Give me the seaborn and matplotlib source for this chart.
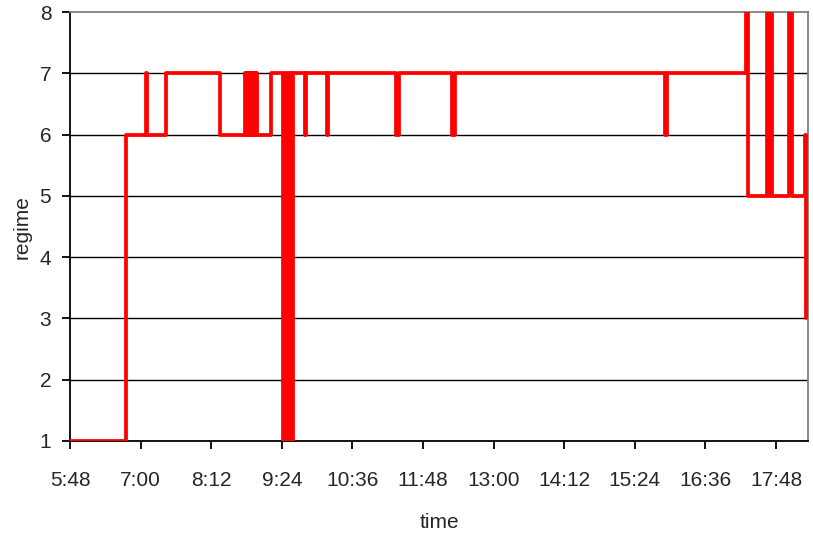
import matplotlib
matplotlib.use("Agg")
import matplotlib.pyplot as plt
import seaborn as sns
import pandas as pd
from matplotlib.ticker import FuncFormatter, FixedLocator

# change points: time of change and new regime value (step series)
times = ["5:48", "6:45", "7:05", "7:07", "7:26", "8:21",
         "8:46", "8:47", "8:48", "8:49", "8:50", "8:51", "8:52", "8:53",
         "8:54", "8:55", "8:56", "8:57", "8:58", "8:59", "9:00", "9:13",
         "9:25", "9:27", "9:28", "9:30", "9:31", "9:33", "9:34", "9:35",
         "9:48", "9:49", "10:10", "10:11", "11:20", "11:24", "12:18", "12:21",
         "15:55", "15:57", "17:17", "17:19",
         "17:39", "17:41", "17:42", "17:44", "18:01", "18:04", "18:18", "18:19"]
regime = [1, 6, 7, 6, 7, 6,
          7, 6, 7, 6, 7, 6, 7, 6,
          7, 6, 7, 6, 7, 6, 6, 7,
          1, 7, 1, 7, 1, 7, 1, 7,
          6, 7, 6, 7, 6, 7, 6, 7,
          6, 7, 8, 5,
          8, 5, 8, 5, 8, 5, 6, 3]

tick_labels = ["5:48", "7:00", "8:12", "9:24", "10:36", "11:48",
               "13:00", "14:12", "15:24", "16:36", "17:48"]
y_ticks = [1, 2, 3, 4, 5, 6, 7, 8]


def to_min(s):
    h, m = s.split(":")
    return int(h) * 60 + int(m)


df = pd.DataFrame({"time": [to_min(t) for t in times], "regime": regime})

sns.set_theme(style="white")
plt.rcParams["font.family"] = ["Liberation Sans", "DejaVu Sans"]

fig = plt.figure(figsize=(8.13, 5.36), dpi=100)
ax = fig.add_axes([70 / 813, 1 - 441 / 536, 738 / 813, 429 / 536])

sns.lineplot(data=df, x="time", y="regime", ax=ax, color="#ff0000",
             linewidth=2.7, drawstyle="steps-post", estimator=None,
             sort=False, zorder=3)

tick_pos = [to_min(t) for t in tick_labels]
ax.set_xlim(tick_pos[0], tick_pos[0] + 752.6)
ax.set_ylim(1, 8)
ax.xaxis.set_major_locator(FixedLocator(tick_pos))
ax.xaxis.set_major_formatter(FuncFormatter(lambda v, p: f"{int(round(v)) // 60}:{int(round(v)) % 60:02d}"))
ax.set_yticks(y_ticks)

for y in y_ticks[1:-1]:
    ax.axhline(y, color="black", linewidth=1.0, zorder=1)

for s in ["left", "bottom"]:
    ax.spines[s].set_color("black")
    ax.spines[s].set_linewidth(1.3)
for s in ["top", "right"]:
    ax.spines[s].set_color("#808080")
    ax.spines[s].set_linewidth(1.3)

ax.tick_params(axis="x", direction="out", length=5.5, width=1.3, color="black",
               pad=16, labelsize=15, bottom=True)
ax.tick_params(axis="y", direction="out", length=5.5, width=1.3, color="black",
               pad=8, labelsize=15, left=True)
ax.set_xlabel("")
ax.set_ylabel("")
fig.text(439 / 813, 1 - 523 / 536, "time", ha="center", va="center", fontsize=15)
fig.text(22 / 813, 1 - 227 / 536, "regime", ha="center", va="center",
         rotation=90, fontsize=15)

fig.savefig("out.png", dpi=100, facecolor="white")
